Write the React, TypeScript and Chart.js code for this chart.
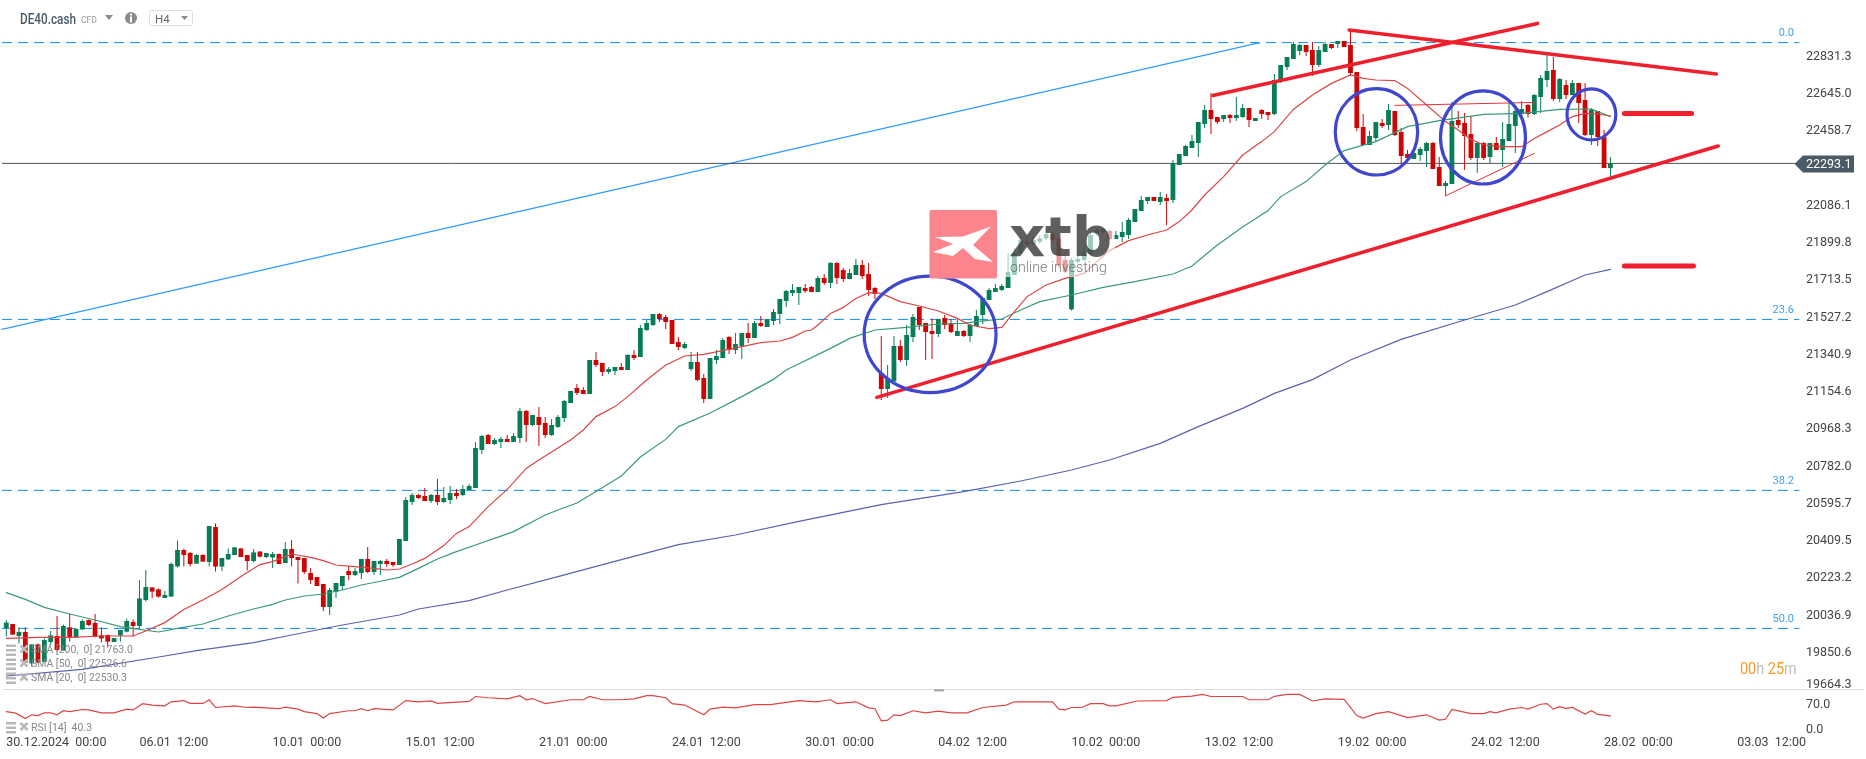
import React, { useEffect, useRef } from "react";
import { Chart, registerables } from "chart.js";

Chart.register(...registerables);

const opens = [
  19970,19990,19930,19950,19793,19888,19800,19900,19930,19857,
  19973,19923,19963,20010,19995,19933,19935,19900,19933,19952,
  20000,19980,20110,20173,20163,20120,20127,20278,20360,20345,
  20292,20335,20300,20475,20277,20313,20335,20368,20335,20305,
  20352,20325,20323,20340,20295,20365,20325,20320,20245,20225,
  20190,20075,20150,20180,20255,20235,20245,20315,20250,20290,
  20305,20300,20285,20405,20600,20635,20630,20605,20635,20600,
  20610,20645,20635,20660,20670,20860,20935,20890,20900,20915,
  20900,20920,21055,20985,21025,20995,20935,20975,21020,21095,
  21170,21160,21140,21310,21295,21250,21255,21275,21260,21335,
  21325,21460,21485,21540,21525,21510,21400,21370,21265,21300,
  21220,21115,21310,21320,21425,21360,21380,21445,21420,21495,
  21475,21505,21540,21605,21645,21645,21670,21675,21650,21720,
  21695,21795,21760,21715,21735,21785,21740,21670,21245,21165,
  21203,21380,21310,21425,21575,21495,21455,21440,21520,21495,
  21430,21455,21430,21480,21535,21610,21650,21660,21670,21735,
  21843,21903,21890,21902,21918,21940,21917,21810,21563,21801,
  21810,21843,21940,21948,21955,21915,21925,21935,22000,22055,
  22105,22125,22100,22120,22110,22285,22330,22370,22395,22490,
  22560,22525,22515,22535,22520,22525,22570,22505,22560,22550,
  22540,22705,22775,22815,22855,22885,22860,22785,22850,22890,
  22890,22905,22885,22750,22475,22385,22420,22495,22485,22555,
  22450,22340,22315,22335,22355,22395,22275,22180,22190,22510,
  22495,22440,22320,22395,22325,22395,22360,22405,22480,22543,
  22585,22540,22625,22710,22760,22615,22685,22635,22695,22610,
  22435,22555,22425,22270,
];
const highs = [
  20010,19990,19973,19973,19888,19893,19918,19955,20030,19988,
  20043,19968,20013,20013,20040,19973,19938,19920,19960,20018,
  20013,20210,20260,20173,20168,20155,20298,20407,20367,20350,
  20340,20340,20480,20493,20320,20368,20375,20368,20335,20365,
  20355,20345,20350,20343,20400,20410,20325,20320,20270,20225,
  20190,20170,20195,20230,20280,20270,20315,20375,20305,20310,
  20315,20300,20415,20625,20645,20640,20670,20640,20715,20675,
  20680,20665,20685,20690,20900,20935,20940,20920,20925,20935,
  20945,21070,21060,21035,21075,21025,21015,21035,21110,21155,
  21190,21175,21310,21350,21295,21275,21275,21295,21340,21360,
  21485,21510,21540,21545,21535,21510,21425,21400,21350,21350,
  21240,21320,21360,21420,21430,21445,21445,21495,21505,21530,
  21515,21565,21615,21660,21690,21675,21690,21680,21730,21740,
  21800,21800,21770,21765,21815,21810,21795,21675,21430,21285,
  21430,21410,21485,21540,21575,21495,21518,21515,21535,21515,
  21515,21460,21490,21560,21620,21670,21690,21690,21845,21870,
  21930,21930,21925,21935,21968,21947,21930,21850,21820,21830,
  21885,21945,21970,21970,21960,21955,22000,22020,22065,22130,
  22125,22125,22150,22140,22310,22340,22385,22435,22500,22585,
  22645,22525,22535,22540,22625,22590,22570,22520,22565,22550,
  22740,22785,22825,22900,22890,22885,22900,22880,22900,22890,
  22905,22905,22960,22750,22540,22455,22500,22515,22590,22555,
  22470,22360,22360,22375,22400,22400,22325,22205,22600,22555,
  22545,22530,22395,22400,22395,22425,22500,22595,22585,22605,
  22590,22640,22735,22835,22825,22720,22710,22710,22695,22695,
  22570,22555,22460,22325,
];
const lows = [
  19927,19935,19893,19793,19777,19793,19800,19885,19852,19857,
  19902,19923,19960,19980,19923,19897,19873,19900,19902,19947,
  19927,19963,20102,20120,20123,20120,20127,20272,20277,20277,
  20290,20302,20277,20252,20255,20310,20335,20325,20257,20298,
  20323,20320,20270,20290,20295,20277,20193,20240,20190,20180,
  20055,20035,20120,20160,20210,20230,20215,20245,20235,20235,
  20275,20275,20285,20405,20585,20615,20605,20595,20585,20595,
  20590,20615,20630,20660,20670,20840,20890,20885,20870,20900,
  20900,20895,20900,20980,20880,20920,20930,20970,21000,21095,
  21135,21140,21140,21275,21230,21240,21235,21260,21260,21310,
  21325,21455,21480,21500,21465,21390,21360,21365,21255,21205,
  21095,21115,21290,21320,21340,21340,21315,21395,21420,21475,
  21475,21485,21490,21575,21630,21585,21645,21650,21650,21685,
  21670,21690,21700,21715,21735,21715,21630,21615,21110,21120,
  21203,21300,21280,21400,21460,21310,21315,21425,21465,21445,
  21430,21425,21400,21480,21490,21610,21650,21655,21670,21735,
  21835,21868,21885,21893,21910,21902,21770,21745,21558,21795,
  21805,21835,21930,21945,21910,21915,21900,21915,22000,22055,
  22090,22105,22085,21985,22095,22285,22330,22370,22325,22470,
  22440,22490,22500,22495,22505,22520,22475,22505,22515,22510,
  22535,22695,22760,22815,22835,22830,22730,22775,22850,22865,
  22870,22875,22730,22455,22385,22385,22405,22470,22460,22430,
  22290,22310,22315,22305,22275,22265,22180,22130,22190,22470,
  22260,22310,22245,22310,22295,22360,22275,22405,22345,22535,
  22522,22535,22545,22675,22605,22600,22615,22635,22495,22430,
  22385,22380,22270,22225,
];
const closes = [
  19997,19937,19950,19797,19888,19797,19910,19933,19860,19980,
  19923,19965,20005,19985,19927,19918,19902,19920,19960,20005,
  19980,20118,20175,20152,20127,20135,20290,20360,20335,20290,
  20335,20302,20480,20277,20320,20340,20373,20325,20305,20348,
  20327,20345,20340,20290,20365,20320,20310,20250,20210,20180,
  20075,20160,20195,20230,20235,20255,20315,20250,20305,20305,
  20290,20285,20415,20610,20635,20620,20605,20635,20600,20620,
  20645,20630,20665,20680,20870,20930,20890,20910,20915,20900,
  20930,21055,20985,21035,20985,20935,20985,21025,21105,21155,
  21145,21140,21310,21285,21250,21265,21275,21260,21335,21320,
  21470,21495,21540,21515,21500,21390,21375,21390,21300,21210,
  21115,21320,21330,21410,21360,21390,21445,21420,21495,21480,
  21515,21550,21615,21655,21660,21675,21655,21650,21720,21695,
  21795,21720,21715,21745,21785,21730,21660,21640,21165,21220,
  21380,21310,21435,21525,21485,21450,21440,21515,21485,21450,
  21455,21430,21485,21530,21620,21660,21670,21680,21750,21843,
  21910,21888,21910,21918,21940,21910,21785,21752,21810,21815,
  21850,21935,21960,21965,21915,21935,21950,22010,22065,22110,
  22125,22105,22125,22105,22295,22340,22380,22405,22500,22560,
  22515,22500,22535,22520,22535,22570,22510,22520,22540,22535,
  22710,22785,22825,22890,22885,22850,22785,22860,22890,22870,
  22905,22875,22745,22470,22385,22430,22500,22480,22560,22435,
  22330,22320,22345,22365,22395,22265,22180,22195,22505,22485,
  22430,22320,22395,22320,22395,22360,22415,22490,22555,22565,
  22540,22635,22720,22755,22615,22715,22635,22695,22595,22435,
  22560,22425,22270,22293,
];

const sma20At = [0,5,10,15,20,22,25,28,31,34,37,40,42,44,45,48,50,52,55,58,60,62,64,66,69,71,73,76,79,82,84,89,91,93,96,98,101,104,107,110,113,116,119,122,124,126,127,128,130,132,134,136,138,141,144,147,150,152,155,157,159,161,164,167,170,172,174,177,180,183,185,187,189,192,195,198,200,203,206,209,212,214,216,219,221,224,227,229,231,233,236,239,241,243,245,247,249,251,253];
const sma20 = [19918,19923,19923,19930,19930,19955,19997,20063,20110,20163,20227,20287,20302,20327,20340,20323,20307,20285,20277,20268,20260,20265,20290,20318,20382,20443,20477,20577,20663,20768,20810,20910,20960,21027,21077,21127,21210,21285,21330,21338,21357,21377,21397,21405,21423,21455,21460,21485,21543,21573,21618,21647,21643,21602,21580,21555,21518,21485,21467,21473,21552,21627,21685,21718,21743,21802,21857,21907,21935,21960,22002,22060,22135,22227,22335,22402,22452,22563,22635,22693,22735,22718,22710,22707,22668,22585,22502,22460,22413,22385,22377,22377,22418,22452,22485,22527,22543,22540,22530];

const sma50At = [0,3,6,10,14,18,21,24,27,31,35,39,42,44,47,50,53,56,60,62,65,68,71,74,77,80,85,87,90,93,97,100,104,106,111,116,121,123,130,133,137,142,147,151,153,157,160,163,168,173,178,184,187,191,195,199,201,205,208,211,216,221,226,233,239,245,250,253];
const sma50 = [20147,20113,20073,20040,20010,19977,19963,19950,19968,19990,20030,20065,20088,20110,20130,20140,20160,20185,20210,20223,20268,20315,20352,20385,20418,20452,20535,20560,20595,20652,20730,20825,20913,20977,21045,21127,21213,21260,21368,21418,21460,21473,21490,21493,21502,21515,21560,21602,21635,21673,21702,21740,21780,21885,21975,22057,22127,22202,22285,22357,22402,22477,22507,22538,22543,22563,22565,22527];

const sma200At = [0,12,25,30,39,45,53,62,65,73,79,87,97,106,115,125,138,151,160,168,174,182,188,195,200,206,212,220,230,238,243,249,253];
const sma200 = [19730,19763,19830,19857,19897,19935,19985,20035,20065,20107,20160,20227,20312,20387,20435,20503,20587,20652,20705,20760,20810,20893,20977,21068,21143,21212,21310,21413,21510,21585,21652,21735,21763];

const rsiAt = [0,1.5,3,4,5,6,7,8,9,10,12,13,15,17,19,20,21.5,23,25,26,28,29,31,32,33,36,38,39,43,44,46,47,49,50,51,54,55,56,57,58,61,63,65,67,68,73,74,76,79,81,82,83,85,89,91,92,94,97,99,101,102,104,105,107,110,111,113,115,118,120.5,125,127.7,130,131,134,136,137,138,139,140,141,143,145,147,149,151.5,154,157.7,159,163.3,165,166,167,168,169.6,171,173,174,175,178.4,183,184,187,188.7,190,195,196,199,200,202,204,206,208,211,213,214,216,218,221,224,226,227,228,231,233,234,235,237,239,240,242,243,244,245,246,247,249,250,251,253];
const rsi = [51,47,34,43,41,48,48,43,53,51,56,55,48,48,57,55,70.5,67,65,75,78,71,71,80,61,65,61,62,58,62,57,51,46,35,46,53,53,58,53,58,55,78,75,77,71,76,88,85,82,90,80,83,70.5,80,80,88,80,80,82,90,90,85,70.5,67,43,57,62,60,68,68,78,75,80,70.5,75,60,58,28,30,43,41,53,48,52,48,48,61,67,75,75,75,57,55,61,61,70.5,70.5,65,65,77,78,86,89,93,88,88,80,80,88.5,93,93,77,82,81,41,35,46,51,36,43,30,32,56,46,46,51,48,57,61,57,69,70.5,57,63,59,61,45,53,44,40.3];

const priceTicks = [22831.3,22645.0,22458.7,22086.1,21899.8,21713.5,21527.2,21340.9,21154.6,20968.3,20782.0,20595.7,20409.5,20223.2,20036.9,19850.6];
const lowestPriceTick = 19664.3;
const rsiTicks = [70];
const lowestRsiTick = 0;
const timeLabels = ["30.12.2024  00:00","06.01  12:00","10.01  00:00","15.01  12:00","21.01  00:00","24.01  12:00","30.01  00:00","04.02  12:00","10.02  00:00","13.02  12:00","19.02  00:00","24.02  12:00","28.02  00:00","03.03  12:00"];
const candlesPerLabel = 21;

const lastPrice = 22293.1;
const fibNames = ["0.0","23.6","38.2","50.0"];
const fibValues = [22897,21513,20658,19968];

const blueTrend = [[-0.68,21463],[197.7,22897]];
const boldTrends = [
  [[137.3,21123],[270,22380]],
  [[190.3,22633],[241.5,22993]],
  [[211.8,22960],[269.7,22740]],
  [[255.2,22543],[265.8,22543]],
  [[255.2,21780],[266.1,21780]],
];
const thinTrends = [
  [[227,22131],[241,22343]],
  [[219,22583],[241.2,22598]],
];
// centre index, centre price, half width (candles), half height (price)
const circles = [
  [145.7,21438,10.4,291],
  [216.1,22451,6.5,216],
  [232.9,22423,6.7,233],
  [250,22538,3.85,128],
];

const GREEN = "#067d57";
const RED = "#cc0505";
const FONT = "Roboto";

const pts = (xs: number[], ys: number[]) => xs.map((x, i) => ({ x, y: ys[i] }));
const seg = (a: number[][]) => a.map(([x, y]) => ({ x, y }));

const zeroPad = (s: any) => {
  s.paddingLeft = 0; s.paddingRight = 0; s.paddingTop = 0; s.paddingBottom = 0;
};

const squeezed = (ctx: any, text: string, x: number, y: number, sx: number) => {
  ctx.save();
  ctx.translate(x, y);
  ctx.scale(sx, 1);
  ctx.fillText(text, 0, 0);
  ctx.restore();
};

const overlay = {
  id: "overlay",
  afterDatasetsDraw(chart: any) {
    const { ctx, scales } = chart;
    const X = scales.x, Y = scales.y, R = scales.rsi;
    ctx.save();

    // circles
    ctx.strokeStyle = "#3f48cc";
    ctx.lineWidth = 3.2;
    circles.forEach(([ci, cv, hi, hv]) => {
      const cx = X.getPixelForValue(ci), cy = Y.getPixelForValue(cv);
      const rx = X.getPixelForValue(ci + hi) - cx, ry = cy - Y.getPixelForValue(cv + hv);
      ctx.beginPath();
      ctx.ellipse(cx, cy, rx, ry, 0, 0, Math.PI * 2);
      ctx.stroke();
    });

    // watermark
    ctx.fillStyle = "rgba(255,255,255,0.6)";
    ctx.fillRect(997, 210, 118, 67);
    ctx.fillStyle = "#fc858d";
    ctx.beginPath();
    ctx.roundRect(929.5, 210, 67.5, 68.5, 2);
    ctx.fill();
    ctx.fillStyle = "#ffffff";
    ctx.beginPath();
    const logo = [[935,237],[963,236.5],[991,226.5],[973,245],[993,262],[975,259],[963,248],[953,256],[933,252],[953,244]];
    logo.forEach(([x, y], i) => (i ? ctx.lineTo(x, y) : ctx.moveTo(x, y)));
    ctx.closePath();
    ctx.fill();
    ctx.textAlign = "left";
    ctx.textBaseline = "alphabetic";
    ctx.fillStyle = "rgba(50,50,50,0.78)";
    ctx.font = "bold 56px 'DejaVu Sans'";
    squeezed(ctx, "xtb", 1009, 256, 1.0);
    ctx.fillStyle = "rgba(90,90,90,0.8)";
    ctx.font = `300 15px ${FONT}`;
    squeezed(ctx, "online investing", 1010, 272, 0.95);

    // fib labels
    ctx.font = `11px ${FONT}`;
    ctx.fillStyle = "#3fa0f0";
    ctx.textAlign = "right";
    ctx.textBaseline = "middle";
    fibNames.forEach((n, i) => {
      ctx.fillText(n, 1794, Y.getPixelForValue(fibValues[i]) - 9);
    });

    // pane divider and handle
    ctx.fillStyle = "#dcdcdc";
    ctx.fillRect(3, 689, 1861, 1);
    ctx.fillStyle = "#b0b0b0";
    ctx.fillRect(934, 689, 10, 2.5);

    // lowest tick labels lifted above their edge
    ctx.font = `12.5px ${FONT}`;
    ctx.fillStyle = "#444";
    ctx.textAlign = "left";
    ctx.fillText(lowestPriceTick.toFixed(1), 1806, Y.getPixelForValue(lowestPriceTick) - 4);
    ctx.fillText(lowestRsiTick.toFixed(1), 1806, R.getPixelForValue(lowestRsiTick) - 2);

    // last price badge
    const py = Y.getPixelForValue(lastPrice);
    ctx.fillStyle = "#4a5a66";
    ctx.beginPath();
    ctx.moveTo(1794.5, py + 0.5);
    ctx.lineTo(1803, py - 8);
    ctx.lineTo(1854, py - 8);
    ctx.lineTo(1854, py + 9);
    ctx.lineTo(1803, py + 9);
    ctx.closePath();
    ctx.fill();
    ctx.fillStyle = "#ffffff";
    ctx.fillText(lastPrice.toFixed(1), 1806, py + 1.5);

    // countdown
    ctx.font = `17px ${FONT}`;
    let tx = 1740;
    [["00", "#f59a23"], ["h ", "#bdbdbd"], ["25", "#f59a23"], ["m", "#bdbdbd"]].forEach(([t, c]) => {
      ctx.fillStyle = c;
      squeezed(ctx, t, tx, 670, 0.85);
      tx += ctx.measureText(t).width * 0.85;
    });

    // indicator legends
    const legends: [string, number][] = [
      [`SMA [200,  0] ${sma200[sma200.length - 1].toFixed(1)}`, 650.5],
      ["SMA [50,  0] 22526.6", 664.5],
      ["SMA [20,  0] 22530.3", 678.5],
      [`RSI [14]  ${rsi[rsi.length - 1].toFixed(1)}`, 728],
    ];
    legends.forEach(([t, y]) => {
      ctx.fillStyle = "#b9b9b9";
      ctx.fillRect(6, y - 6, 10, 2.5);
      ctx.fillRect(6, y - 1.5, 10, 2.5);
      ctx.fillRect(6, y + 3, 10, 2.5);
      ctx.strokeStyle = "#b9b9b9";
      ctx.lineWidth = 2.5;
      ctx.beginPath();
      ctx.moveTo(20.5, y - 5); ctx.lineTo(27.5, y + 2);
      ctx.moveTo(27.5, y - 5); ctx.lineTo(20.5, y + 2);
      ctx.stroke();
      ctx.fillStyle = "#888888";
      ctx.font = `11.5px ${FONT}`;
      squeezed(ctx, t, 31, y, 0.91);
    });

    // header
    ctx.fillStyle = "#4a5a66";
    ctx.font = `500 14px ${FONT}`;
    squeezed(ctx, "DE40.cash", 20, 20, 0.84);
    ctx.fillStyle = "#9a9a9a";
    ctx.font = `9px ${FONT}`;
    squeezed(ctx, "CFD", 81, 20.5, 0.95);
    const tri = (x: number, y: number, w: number, h: number, c: string) => {
      ctx.fillStyle = c;
      ctx.beginPath();
      ctx.moveTo(x, y); ctx.lineTo(x + w, y); ctx.lineTo(x + w / 2, y + h);
      ctx.closePath();
      ctx.fill();
    };
    tri(105, 15, 8, 5, "#8a8a8a");
    ctx.fillStyle = "#8a8a8a";
    ctx.beginPath();
    ctx.arc(131, 18, 6, 0, Math.PI * 2);
    ctx.fill();
    ctx.fillStyle = "#ffffff";
    ctx.fillRect(130, 13.5, 2, 2);
    ctx.fillRect(130, 16.5, 2, 6);
    ctx.strokeStyle = "#dddddd";
    ctx.lineWidth = 1;
    ctx.beginPath();
    ctx.roundRect(149.5, 10.5, 43, 15, 2);
    ctx.stroke();
    ctx.fillStyle = "#666666";
    ctx.font = `11.5px ${FONT}`;
    ctx.fillText("H4", 155, 20);
    tri(181, 16, 7, 4, "#8a8a8a");
    ctx.restore();
  },
};

export default function App() {
  const ref = useRef<HTMLCanvasElement | null>(null);
  useEffect(() => {
    const idx = opens.map((_, i) => i);
    const colors = idx.map((i) => (closes[i] >= opens[i] ? GREEN : RED));
    const bar = (data: any[], thick: number, order: number) => ({
      type: "bar", data, order, grouped: false, barThickness: thick, barPercentage: 1,
      categoryPercentage: 1, inflateAmount: 0, borderWidth: 0,
      backgroundColor: colors, xAxisID: "x", yAxisID: "y",
    });
    const line = (data: any[], color: string, width: number, order: number, extra: any = {}) => ({
      type: "line", data, order, borderColor: color, borderWidth: width, pointRadius: 0,
      tension: 0, fill: false, xAxisID: "x", yAxisID: "y", borderCapStyle: "round", ...extra,
    });
    const fibXs = [-0.68, 282.8];
    const datasets: any[] = [
      ...fibValues.map((v) => line(pts(fibXs, [v, v]), "#0f8cf0", 1, 30, { borderDash: [10, 6], borderCapStyle: "butt" })),
      line(seg(blueTrend), "#2f9bff", 1.2, 29),
      line(pts([-0.68, 282.8], [lastPrice, lastPrice]), "#4a5560", 1, 28),
      bar(idx.map((i) => ({ x: i, y: [lows[i], highs[i]] })), 1, 20),
      bar(idx.map((i) => ({ x: i, y: [opens[i], closes[i]] })), 4.8, 19),
      line(pts(sma200At, sma200), "#5a62b0", 1.2, 12),
      line(pts(sma50At, sma50), "#3a9a77", 1.2, 11),
      line(pts(sma20At, sma20), "#d94545", 1.2, 10),
      ...thinTrends.map((t) => line(seg(t), "#e8303a", 1, 9)),
      ...boldTrends.map((t, i) => line(seg(t), "#f01f2d", i > 2 ? 5 : 3.6, 8)),
      line(pts(rsiAt, rsi), "#dd4444", 1.2, 7, { yAxisID: "rsi" }),
    ];
    const tickFont = { family: FONT, size: 12.5 };
    const chart = new Chart(ref.current as HTMLCanvasElement, {
      type: "bar",
      data: { datasets },
      plugins: [overlay],
      options: {
        animation: false,
        responsive: false,
        devicePixelRatio: 1,
        layout: { padding: 0 },
        plugins: { legend: { display: false }, tooltip: { enabled: false } },
        scales: {
          x: {
            type: "linear", min: -0.994, max: 282.9, offset: false,
            grid: { display: false, drawTicks: false }, border: { display: false },
            afterBuildTicks: (s: any) => { s.ticks = timeLabels.map((_, i) => ({ value: i * candlesPerLabel })); },
            afterFit: (s: any) => { s.height = 26.7; zeroPad(s); },
            ticks: {
              autoSkip: false, maxRotation: 0, minRotation: 0, align: "start", padding: 3.5,
              color: "#444", font: tickFont,
              callback: (v: number) => timeLabels[Math.round(v / candlesPerLabel)],
            },
          },
          y: {
            type: "linear", position: "right", stack: "panes", stackWeight: 690, weight: 0,
            min: 19660, max: 23110,
            grid: { display: false, drawTicks: false }, border: { display: false },
            afterBuildTicks: (s: any) => { s.ticks = priceTicks.map((value) => ({ value })); },
            afterFit: (s: any) => { s.width = 66; zeroPad(s); },
            ticks: { autoSkip: false, padding: 6, labelOffset: 1, color: "#444", font: tickFont, callback: (v: number) => v.toFixed(1) },
          },
          rsi: {
            type: "linear", position: "right", stack: "panes", stackWeight: 42.3, weight: 1,
            min: 0, max: 104,
            grid: { display: false, drawTicks: false }, border: { display: false },
            afterBuildTicks: (s: any) => { s.ticks = rsiTicks.map((value) => ({ value })); },
            afterFit: (s: any) => { s.width = 66; zeroPad(s); },
            ticks: { autoSkip: false, padding: 6, labelOffset: 1, color: "#444", font: tickFont, callback: (v: number) => v.toFixed(1) },
          },
        },
      },
    } as any);
    return () => chart.destroy();
  }, []);
  return (
    <canvas
      ref={ref}
      width={1866}
      height={759}
      style={{ position: "fixed", left: 0, top: 0, width: 1866, height: 759 }}
    />
  );
}
